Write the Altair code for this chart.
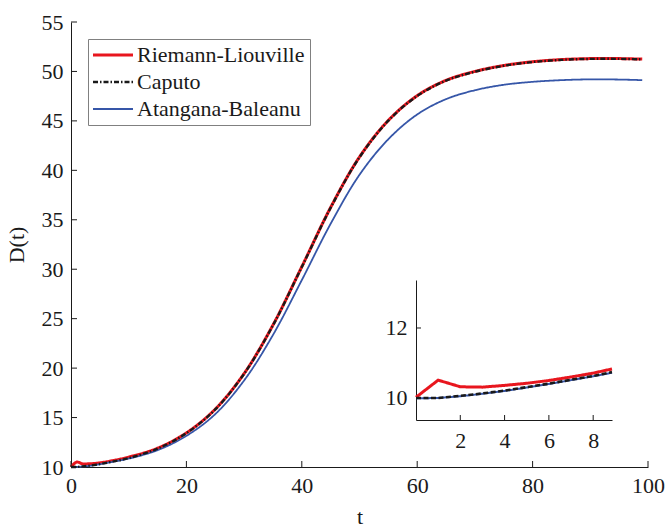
import altair as alt
import pandas as pd

FONT = "'Liberation Serif', 'Times New Roman', Times, serif"
INK = "#1a1a1a"
FS = 22

# ---- main panel data ----
t_main = [0, 1, 2, 3, 5, 7, 10, 15, 20, 25, 30, 35, 40, 45, 50, 55, 60, 65, 70, 75, 80, 85, 90, 95, 99]
rl_main = [10.0, 10.5, 10.32, 10.32, 10.42, 10.62, 11.0, 11.9, 13.45, 15.85, 19.45, 24.35, 30.25,
           36.25, 41.35, 45.05, 47.55, 49.1, 50.0, 50.6, 50.98, 51.2, 51.3, 51.3, 51.25]
cap_main = [10.0, 10.0, 10.06, 10.12, 10.3, 10.52, 10.9, 11.85, 13.42, 15.82, 19.42, 24.32, 30.22,
            36.22, 41.32, 45.02, 47.52, 49.07, 49.97, 50.57, 50.95, 51.17, 51.27, 51.27, 51.22]
ab_main = [10.0, 10.0, 10.05, 10.1, 10.28, 10.5, 10.85, 11.7, 13.15, 15.35, 18.75, 23.35, 28.9,
           34.6, 39.55, 43.15, 45.65, 47.2, 48.1, 48.65, 48.95, 49.12, 49.2, 49.18, 49.12]

# ---- inset data ----
t_ins = [0, 1, 2, 3, 4, 5, 6, 7, 8, 8.85]
rl_ins = [10.02, 10.51, 10.32, 10.31, 10.36, 10.42, 10.5, 10.6, 10.71, 10.83]
cap_ins = [10.0, 10.0, 10.06, 10.13, 10.21, 10.31, 10.41, 10.52, 10.63, 10.74]
ab_ins = [9.99, 10.0, 10.05, 10.12, 10.2, 10.3, 10.4, 10.51, 10.62, 10.72]

series_names = ["Riemann-Liouville", "Caputo", "Atangana-Baleanu"]
series_colors = ["#e8161e", "#1a1a1a", "#3656a8"]
series_dash = [[1, 0], [5, 2, 1.5, 2], [1, 0]]
series_width = [3, 1.8, 1.4]

main_x_ticks = [0, 20, 40, 60, 80, 100]
main_y_ticks = [10, 15, 20, 25, 30, 35, 40, 45, 50, 55]
ins_x_ticks = [2, 4, 6, 8]
ins_y_ticks = [10, 12]

W, H = 577, 445

# draw order: RL, AB, Caputo (Caputo on top)
rows = []
for name, vals in [("Riemann-Liouville", rl_main), ("Atangana-Baleanu", ab_main), ("Caputo", cap_main)]:
    for t, v in zip(t_main, vals):
        rows.append({"t": t, "v": v, "series": name})
df_main = pd.DataFrame(rows)

xs_main = alt.Scale(domain=[0, 100], range=[0, W], nice=False, zero=False)
ys_main = alt.Scale(domain=[10, 55], range=[H, 0], nice=False, zero=False)

axis_style = dict(domainColor=INK, domainWidth=1, labelColor=INK, labelFont=FONT,
                  labelFontSize=FS, titleFont=FONT, titleFontSize=FS, titleFontWeight="normal",
                  titleColor=INK, grid=False, ticks=False, tickSize=0, labelFlush=False,
                  labelOverlap=False)

legend = alt.Legend(title=None, orient="none", legendX=17, legendY=17, direction="vertical",
                    fillColor="white", strokeColor="#808080", padding=5, labelFont=FONT,
                    labelFontSize=FS, labelColor=INK, labelLimit=400,
                    symbolType="M-2.2,0H5.8", symbolSize=100, labelOffset=22, rowPadding=5)

lines_main = alt.Chart(df_main).mark_line(interpolate="catmull-rom").encode(
    x=alt.X("t:Q", scale=xs_main,
            axis=alt.Axis(orient="bottom", values=main_x_ticks, title="t", labelPadding=8,
                          titlePadding=10, **axis_style)),
    y=alt.Y("v:Q", scale=ys_main,
            axis=alt.Axis(orient="left", values=main_y_ticks, title="D(t)", labelPadding=8,
                          titlePadding=13, **axis_style)),
    color=alt.Color("series:N", scale=alt.Scale(domain=series_names, range=series_colors), legend=legend),
    strokeDash=alt.StrokeDash("series:N", scale=alt.Scale(domain=series_names, range=series_dash), legend=legend),
    strokeWidth=alt.StrokeWidth("series:N", scale=alt.Scale(domain=series_names, range=series_width), legend=legend),
)

ticks_x_main = alt.Chart(pd.DataFrame({"t": main_x_ticks})).mark_rule(color=INK, strokeWidth=1).encode(
    x=alt.X("t:Q", scale=xs_main, axis=None), y=alt.value(H), y2=alt.value(H - 6))
ticks_y_main = alt.Chart(pd.DataFrame({"v": main_y_ticks})).mark_rule(color=INK, strokeWidth=1).encode(
    y=alt.Y("v:Q", scale=ys_main, axis=None), x=alt.value(0), x2=alt.value(6))

# ---- inset ----
IX0, IX1 = 345, 541
IY0, IY1 = 398, 258
xs_ins = alt.Scale(domain=[0, 8.85], range=[IX0, IX1], nice=False, zero=False)
ys_ins = alt.Scale(domain=[9.371, 13.371], range=[IY0, IY1], nice=False, zero=False)


def ins_line(vals, color, width, dash, with_axes=False):
    df = pd.DataFrame({"t": t_ins, "v": vals})
    if with_axes:
        xenc = alt.X("t:Q", scale=xs_ins,
                     axis=alt.Axis(orient="bottom", offset=IY0 - H, values=ins_x_ticks, title=None,
                                   labelPadding=10, **axis_style))
        yenc = alt.Y("v:Q", scale=ys_ins,
                     axis=alt.Axis(orient="left", offset=-IX0, values=ins_y_ticks, title=None,
                                   labelPadding=9, **axis_style))
    else:
        xenc = alt.X("t:Q", scale=xs_ins, axis=None)
        yenc = alt.Y("v:Q", scale=ys_ins, axis=None)
    return alt.Chart(df).mark_line(color=color, strokeWidth=width, strokeDash=dash).encode(x=xenc, y=yenc)


ins_rl = ins_line(rl_ins, series_colors[0], 3, [1, 0], with_axes=True)
ins_ab = ins_line(ab_ins, series_colors[2], 2, [1, 0])
ins_cap = ins_line(cap_ins, series_colors[1], 2.6, [5, 2.5])

ticks_x_ins = alt.Chart(pd.DataFrame({"t": ins_x_ticks})).mark_rule(color=INK, strokeWidth=1).encode(
    x=alt.X("t:Q", scale=xs_ins, axis=None), y=alt.value(IY0), y2=alt.value(IY0 - 5))
ticks_y_ins = alt.Chart(pd.DataFrame({"v": ins_y_ticks})).mark_rule(color=INK, strokeWidth=1).encode(
    y=alt.Y("v:Q", scale=ys_ins, axis=None), x=alt.value(IX0), x2=alt.value(IX0 + 5))

chart = alt.layer(
    lines_main, ticks_x_main, ticks_y_main,
    ins_rl, ins_ab, ins_cap, ticks_x_ins, ticks_y_ins,
).resolve_scale(x="independent", y="independent").properties(
    width=W, height=H,
    autosize=alt.AutoSizeParams(type="none"),
    padding={"left": 71, "top": 22, "right": 19, "bottom": 64},
    background="white",
).configure_view(stroke=None)

chart.save("out.html", embed_options={"renderer": "svg", "actions": False})
